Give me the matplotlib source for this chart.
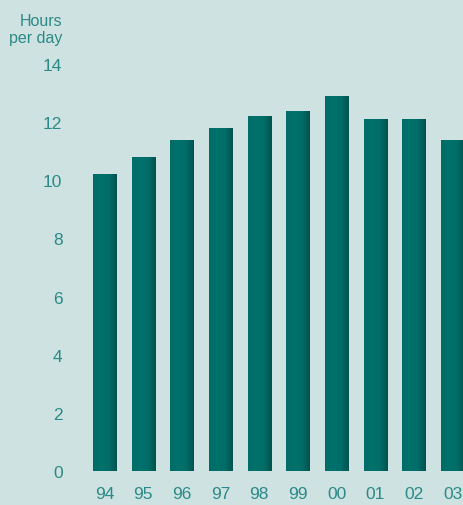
import matplotlib.pyplot as plt
import numpy as np
from matplotlib.colors import LinearSegmentedColormap

# data
years = ['94', '95', '96', '97', '98', '99', '00', '01', '02', '03']
hours = [10.2, 10.8, 11.4, 11.8, 12.2, 12.4, 12.9, 12.1, 12.1, 11.4]
y_ticks = [0, 2, 4, 6, 8, 10, 12, 14]

bg = '#cde2e1'
text_col = '#2b8a87'
bar_cmap = LinearSegmentedColormap.from_list(
    'bar', ['#006c67', '#00716b', '#006d68', '#00524e'])

plt.rcParams['font.family'] = ['Liberation Sans', 'DejaVu Sans']

fig = plt.figure(figsize=(4.63, 5.06), dpi=100, facecolor=bg)
ax = fig.add_axes([75 / 463, 34 / 506, 388 / 463, 407 / 506])
ax.set_facecolor(bg)

x = np.arange(len(years))
width = 0.6
bars = ax.bar(x, hours, width=width, color='#006d68', zorder=2)

# horizontal shading inside each bar, darker toward the right edge
grad = np.linspace(0, 1, 64).reshape(1, -1)
for b in bars:
    im = ax.imshow(grad, cmap=bar_cmap, aspect='auto', zorder=3,
                   extent=[b.get_x(), b.get_x() + b.get_width(), 0, b.get_height()])
    im.set_clip_path(b)

ax.set_xlim(-0.763, 9.27)
ax.set_ylim(0, 14)
ax.set_xticks(x)
ax.set_xticklabels(years)
ax.set_yticks(y_ticks)
ax.tick_params(length=0, colors=text_col, labelsize=12.5)
ax.tick_params(axis='x', pad=11)
ax.tick_params(axis='y', pad=9)
for s in ax.spines.values():
    s.set_visible(False)

fig.text(62 / 463, 1 - 14 / 506, 'Hours\nper day', ha='right', va='top',
         color=text_col, fontsize=11.5, linespacing=1.15)

fig.savefig('out.png', dpi=100, facecolor=bg)
